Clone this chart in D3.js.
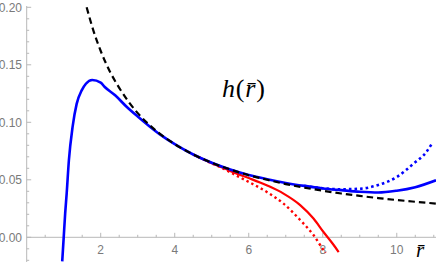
<!DOCTYPE html>
<html>
<head>
<meta charset="utf-8">
<script src="https://cdn.jsdelivr.net/npm/d3@7"></script>
<style>
  body { margin: 0; background: #fff; }
  svg { display: block; }
  .tick-label { font-family: "Liberation Sans", Arial, sans-serif; font-size: 12px; fill: #7a7a7a; }
  .math { font-family: "Liberation Serif", "DejaVu Serif", serif; }
</style>
</head>
<body>
<svg id="chart" width="436" height="262"></svg>
<script>
// values
const blackR = [1.62, 1.8, 2.0, 2.25, 2.5, 2.75, 3.0, 3.5, 4.0, 4.5, 5.0, 5.5, 6.0, 6.5, 7.0, 7.5, 8.0, 8.5, 9.0, 9.5, 10.0, 10.5, 11.06];
const blackH = [0.200, 0.180, 0.162, 0.144, 0.130, 0.118, 0.108, 0.0926, 0.081, 0.072, 0.0648, 0.059, 0.054, 0.050, 0.0463, 0.0432, 0.0405, 0.0381, 0.036, 0.0341, 0.0324, 0.0309, 0.0293];

const blueR = [0.96, 1.0, 1.04, 1.08, 1.14, 1.24, 1.35, 1.49, 1.6, 1.77, 2.0, 2.11, 2.39, 2.7, 3.0, 3.33, 3.6, 4.0, 4.5, 5.0, 5.5, 6.0, 6.5, 7.0, 7.5, 8.0, 8.5, 9.0, 9.5, 10.0, 10.5, 11.06];
const blueH = [-0.021, 0.0, 0.021, 0.038, 0.067, 0.096, 0.116, 0.128, 0.1335, 0.1368, 0.1345, 0.1307, 0.1235, 0.1135, 0.105, 0.0962, 0.0895, 0.081, 0.072, 0.0648, 0.059, 0.0542, 0.0505, 0.0473, 0.0447, 0.0425, 0.041, 0.0396, 0.0389, 0.0405, 0.0436, 0.0496];

const blueDotR = [7.5, 8.0, 8.5, 9.0, 9.5, 10.0, 10.45, 10.8, 10.95];
const blueDotH = [0.0447, 0.0427, 0.0418, 0.0422, 0.0455, 0.0524, 0.064, 0.0742, 0.0815];

const redR = [4.5, 5.0, 5.3, 5.6, 6.0, 6.5, 6.94, 7.39, 7.75, 8.02, 8.29, 8.43];
const redH = [0.072, 0.0645, 0.0605, 0.0563, 0.0515, 0.045, 0.038, 0.028, 0.0163, 0.0046, -0.0065, -0.0128];

const redDotR = [4.5, 5.0, 5.3, 5.6, 6.04, 6.49, 6.94, 7.39, 7.75, 8.02, 8.08];
const redDotH = [0.072, 0.0643, 0.060, 0.0548, 0.0475, 0.0394, 0.0293, 0.015, 0.002, -0.011, -0.0135];

const xTicks = [2, 4, 6, 8, 10];
const yTicks = [0.0, 0.05, 0.10, 0.15, 0.20];

const width = 436;
const height = 262;

const svg = d3.select('#chart');

const xScale = d3.scaleLinear()
  .domain([0, 11.06])
  .range([26.7, width]);

const yScale = d3.scaleLinear()
  .domain([0, 0.2])
  .range([237.3, 7.3]);

const axisColor = '#b8b8b8';

// axes lines
svg.append('line')
  .attr('x1', xScale(0)).attr('x2', width)
  .attr('y1', yScale(0)).attr('y2', yScale(0))
  .attr('stroke', axisColor).attr('stroke-width', 1);

svg.append('line')
  .attr('x1', xScale(0)).attr('x2', xScale(0))
  .attr('y1', 6).attr('y2', height)
  .attr('stroke', axisColor).attr('stroke-width', 1);

// x ticks every 0.5, longer at majors
const xMinor = d3.range(0.5, 11.01, 0.5);
svg.append('g').selectAll('line')
  .data(xMinor)
  .enter().append('line')
  .attr('x1', d => xScale(d)).attr('x2', d => xScale(d))
  .attr('y1', yScale(0))
  .attr('y2', d => yScale(0) - (xTicks.includes(d) ? 4.5 : 2.5))
  .attr('stroke', axisColor);

// y ticks every 0.01
const yMinor = d3.range(-2, 21).map(i => i / 100);
svg.append('g').selectAll('line')
  .data(yMinor)
  .enter().append('line')
  .attr('y1', d => yScale(d)).attr('y2', d => yScale(d))
  .attr('x1', xScale(0))
  .attr('x2', (d, i) => xScale(0) + ((i - 2) % 5 === 0 ? 4.5 : 2.5))
  .attr('stroke', axisColor);

svg.append('g').selectAll('text')
  .data(xTicks)
  .enter().append('text')
  .attr('class', 'tick-label')
  .attr('x', d => xScale(d))
  .attr('y', 254)
  .attr('text-anchor', 'middle')
  .text(d => d);

svg.append('g').selectAll('text')
  .data(yTicks)
  .enter().append('text')
  .attr('class', 'tick-label')
  .attr('x', 22)
  .attr('y', d => yScale(d) + 4.3)
  .attr('text-anchor', 'end')
  .text(d => d.toFixed(2));

const line = d3.line()
  .x(d => xScale(d[0]))
  .y(d => yScale(d[1]))
  .curve(d3.curveMonotoneX);

const zip = (a, b) => a.map((v, i) => [v, b[i]]);

const curves = svg.append('g');

curves.append('path')
  .attr('d', line(zip(redDotR, redDotH)))
  .attr('fill', 'none').attr('stroke', '#ff0000')
  .attr('stroke-width', 2.4).attr('stroke-dasharray', '2.4,3');

curves.append('path')
  .attr('d', line(zip(redR, redH)))
  .attr('fill', 'none').attr('stroke', '#ff0000')
  .attr('stroke-width', 2.2);

curves.append('path')
  .attr('d', line(zip(blueDotR, blueDotH)))
  .attr('fill', 'none').attr('stroke', '#0000ff')
  .attr('stroke-width', 2.6).attr('stroke-dasharray', '2.6,3');

curves.append('path')
  .attr('d', line(zip(blueR, blueH)))
  .attr('fill', 'none').attr('stroke', '#0000ff')
  .attr('stroke-width', 2.6);

curves.append('path')
  .attr('d', line(zip(blackR, blackH)))
  .attr('fill', 'none').attr('stroke', '#000')
  .attr('stroke-width', 2.2).attr('stroke-dasharray', '6.5,4');

// labels: italic letters, upright brackets
const title = svg.append('text')
  .attr('class', 'math')
  .attr('x', 222)
  .attr('y', 97)
  .attr('font-size', 26)
  .attr('letter-spacing', 0.8);
title.append('tspan').attr('font-style', 'italic').text('h');
title.append('tspan').text('(');
title.append('tspan').attr('font-style', 'italic').text('r\u0304');
title.append('tspan').text(')');

svg.append('text')
  .attr('class', 'math')
  .attr('x', 416)
  .attr('y', 257)
  .attr('font-style', 'italic')
  .attr('font-size', 21)
  .text('r\u0304');
</script>
</body>
</html>
